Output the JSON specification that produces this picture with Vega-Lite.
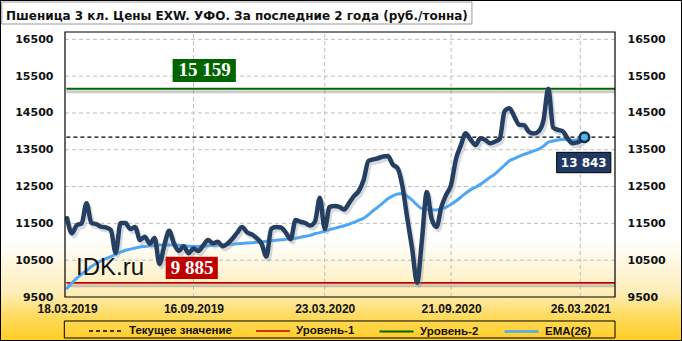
{
  "$schema": "https://vega.github.io/schema/vega-lite/v6.json",
  "width": 682,
  "height": 341,
  "autosize": {"type": "none"},
  "padding": 0,
  "background": "white",
  "title": {
    "text": "Пшеница 3 кл. Цены EXW. УФО. За последние 2 года (руб./тонна)",
    "anchor": "start", "frame": "group", "orient": "top", "offset": -32, "dx": 6,
    "baseline": "alphabetic", "font": "DejaVu Sans", "fontSize": 12, "fontWeight": "bold", "color": "#111111"
  },
  "config": {
    "view": {
      "fill": {"gradient": "linear", "x1": 0, "y1": 0, "x2": 0, "y2": 1,
        "stops": [
          {"offset": 0, "color": "#ffffff"},
          {"offset": 0.70, "color": "#ffffff"},
          {"offset": 0.86, "color": "#FDEDB8"},
          {"offset": 0.92, "color": "#FFDD66"},
          {"offset": 1, "color": "#FFCC22"}
        ]},
      "stroke": "#000000", "strokeWidth": 2
    },
    "axis": {"grid": false, "ticks": false, "domain": false, "title": null, "labelFlush": false, "labelBound": false,
      "labelFont": "DejaVu Sans", "labelFontSize": 11, "labelFontWeight": "bold", "labelColor": "#111111"}
  },
  "datasets": {
    "series": [
      {"date": "2019-03-18", "price": 11640, "ema": 9740},
      {"date": "2019-03-25", "price": 11230, "ema": 9880},
      {"date": "2019-04-01", "price": 11456, "ema": 10010},
      {"date": "2019-04-08", "price": 11500, "ema": 10120},
      {"date": "2019-04-15", "price": 12050, "ema": 10220},
      {"date": "2019-04-22", "price": 11510, "ema": 10330},
      {"date": "2019-04-29", "price": 11480, "ema": 10410},
      {"date": "2019-05-06", "price": 11410, "ema": 10480},
      {"date": "2019-05-13", "price": 11390, "ema": 10540},
      {"date": "2019-05-20", "price": 11320, "ema": 10600},
      {"date": "2019-05-27", "price": 10700, "ema": 10660},
      {"date": "2019-06-03", "price": 11510, "ema": 10720},
      {"date": "2019-06-10", "price": 11510, "ema": 10770},
      {"date": "2019-06-17", "price": 11350, "ema": 10800},
      {"date": "2019-06-24", "price": 11400, "ema": 10830},
      {"date": "2019-07-01", "price": 11050, "ema": 10860},
      {"date": "2019-07-08", "price": 11140, "ema": 10875},
      {"date": "2019-07-15", "price": 10950, "ema": 10890},
      {"date": "2019-07-22", "price": 11100, "ema": 10900},
      {"date": "2019-07-29", "price": 10400, "ema": 10910},
      {"date": "2019-08-05", "price": 10900, "ema": 10910},
      {"date": "2019-08-12", "price": 11300, "ema": 10910},
      {"date": "2019-08-19", "price": 10950, "ema": 10910},
      {"date": "2019-08-26", "price": 10750, "ema": 10905},
      {"date": "2019-09-02", "price": 10880, "ema": 10890},
      {"date": "2019-09-09", "price": 10690, "ema": 10880},
      {"date": "2019-09-16", "price": 10820, "ema": 10870},
      {"date": "2019-09-23", "price": 10750, "ema": 10875},
      {"date": "2019-09-30", "price": 10900, "ema": 10880},
      {"date": "2019-10-07", "price": 11050, "ema": 10890},
      {"date": "2019-10-14", "price": 10960, "ema": 10905},
      {"date": "2019-10-21", "price": 11000, "ema": 10910},
      {"date": "2019-10-28", "price": 10880, "ema": 10920},
      {"date": "2019-11-04", "price": 10950, "ema": 10925},
      {"date": "2019-11-11", "price": 11080, "ema": 10935},
      {"date": "2019-11-18", "price": 11250, "ema": 10945},
      {"date": "2019-11-25", "price": 11400, "ema": 10955},
      {"date": "2019-12-02", "price": 11260, "ema": 10965},
      {"date": "2019-12-09", "price": 11200, "ema": 10975},
      {"date": "2019-12-16", "price": 11100, "ema": 10990},
      {"date": "2019-12-23", "price": 10950, "ema": 11000},
      {"date": "2019-12-30", "price": 10600, "ema": 11015},
      {"date": "2020-01-06", "price": 11350, "ema": 11030},
      {"date": "2020-01-13", "price": 11400, "ema": 11045},
      {"date": "2020-01-20", "price": 11390, "ema": 11055},
      {"date": "2020-01-27", "price": 11250, "ema": 11070},
      {"date": "2020-02-03", "price": 11070, "ema": 11085},
      {"date": "2020-02-10", "price": 11590, "ema": 11095},
      {"date": "2020-02-17", "price": 11545, "ema": 11120},
      {"date": "2020-02-24", "price": 11510, "ema": 11150},
      {"date": "2020-03-02", "price": 11440, "ema": 11175},
      {"date": "2020-03-09", "price": 11550, "ema": 11220},
      {"date": "2020-03-16", "price": 12200, "ema": 11250},
      {"date": "2020-03-23", "price": 11350, "ema": 11290},
      {"date": "2020-03-30", "price": 11950, "ema": 11330},
      {"date": "2020-04-06", "price": 11970, "ema": 11365},
      {"date": "2020-04-13", "price": 11950, "ema": 11400},
      {"date": "2020-04-20", "price": 11880, "ema": 11435},
      {"date": "2020-04-27", "price": 12050, "ema": 11475},
      {"date": "2020-05-04", "price": 12240, "ema": 11530},
      {"date": "2020-05-11", "price": 12380, "ema": 11585},
      {"date": "2020-05-18", "price": 12680, "ema": 11640},
      {"date": "2020-05-25", "price": 13200, "ema": 11740},
      {"date": "2020-06-01", "price": 13240, "ema": 11850},
      {"date": "2020-06-08", "price": 13270, "ema": 11950},
      {"date": "2020-06-15", "price": 13320, "ema": 12060},
      {"date": "2020-06-22", "price": 13330, "ema": 12170},
      {"date": "2020-06-29", "price": 13100, "ema": 12250},
      {"date": "2020-07-06", "price": 13000, "ema": 12300},
      {"date": "2020-07-13", "price": 12500, "ema": 12310},
      {"date": "2020-07-20", "price": 11620, "ema": 12240},
      {"date": "2020-07-27", "price": 10800, "ema": 12130},
      {"date": "2020-08-03", "price": 9885, "ema": 12000},
      {"date": "2020-08-10", "price": 11050, "ema": 11900},
      {"date": "2020-08-17", "price": 12350, "ema": 11880},
      {"date": "2020-08-24", "price": 11620, "ema": 11870},
      {"date": "2020-08-31", "price": 11400, "ema": 11865},
      {"date": "2020-09-07", "price": 11950, "ema": 11900},
      {"date": "2020-09-14", "price": 12280, "ema": 11945},
      {"date": "2020-09-21", "price": 12550, "ema": 12020},
      {"date": "2020-09-28", "price": 13250, "ema": 12110},
      {"date": "2020-10-05", "price": 13620, "ema": 12210},
      {"date": "2020-10-12", "price": 13950, "ema": 12320},
      {"date": "2020-10-19", "price": 13780, "ema": 12410},
      {"date": "2020-10-26", "price": 13630, "ema": 12480},
      {"date": "2020-11-02", "price": 13810, "ema": 12560},
      {"date": "2020-11-09", "price": 13770, "ema": 12650},
      {"date": "2020-11-16", "price": 13680, "ema": 12750},
      {"date": "2020-11-23", "price": 13720, "ema": 12840},
      {"date": "2020-11-30", "price": 13800, "ema": 12960},
      {"date": "2020-12-07", "price": 14550, "ema": 13080},
      {"date": "2020-12-14", "price": 14630, "ema": 13200},
      {"date": "2020-12-21", "price": 14400, "ema": 13260},
      {"date": "2020-12-28", "price": 14180, "ema": 13320},
      {"date": "2021-01-04", "price": 14170, "ema": 13375},
      {"date": "2021-01-11", "price": 13990, "ema": 13420},
      {"date": "2021-01-18", "price": 13940, "ema": 13470},
      {"date": "2021-01-25", "price": 14000, "ema": 13520},
      {"date": "2021-02-01", "price": 14300, "ema": 13600},
      {"date": "2021-02-08", "price": 15159, "ema": 13710},
      {"date": "2021-02-15", "price": 14100, "ema": 13740},
      {"date": "2021-02-22", "price": 14040, "ema": 13765},
      {"date": "2021-03-01", "price": 14000, "ema": 13785},
      {"date": "2021-03-08", "price": 13800, "ema": 13770},
      {"date": "2021-03-15", "price": 13680, "ema": 13755},
      {"date": "2021-03-22", "price": 13700, "ema": 13780},
      {"date": "2021-04-01", "price": 13843, "ema": 13843}
    ],
    "last": [{"date": "2021-04-01", "price": 13843}],
    "levels": [
      {"series": "Текущее значение", "v": 13843},
      {"series": "Уровень-1", "v": 9885},
      {"series": "Уровень-2", "v": 15159}
    ],
    "gy": [{"v": 10500}, {"v": 11500}, {"v": 12500}, {"v": 13500}, {"v": 14500}, {"v": 15500}, {"v": 16500}],
    "gx": [{"d": "2019-09-16"}, {"d": "2020-03-23"}, {"d": "2020-09-21"}, {"d": "2021-03-26"}],
    "one": [{}]
  },
  "resolve": {"axis": {"x": "independent", "y": "independent"}},
  "layer": [
    {
      "data": {"name": "gy"},
      "mark": {"type": "rule", "stroke": "#BEBEBE", "strokeDash": [4, 3], "strokeWidth": 1},
      "encoding": {
        "y": {"field": "v", "type": "quantitative", "axis": null, "scale": {"domain": [9500, 16700], "range": [297, 32], "nice": false, "zero": false}},
        "x": {"datum": {"year": 2019, "month": 3, "date": 15}, "type": "temporal", "axis": null, "scale": {"domain": [{"year": 2019, "month": 3, "date": 15}, {"year": 2021, "month": 5, "date": 15}], "range": [65, 615], "nice": false}},
        "x2": {"datum": {"year": 2021, "month": 5, "date": 15}}
      }
    },
    {
      "data": {"name": "gx"},
      "mark": {"type": "rule", "stroke": "#BEBEBE", "strokeDash": [4, 3], "strokeWidth": 1},
      "encoding": {
        "x": {"field": "d", "type": "temporal", "axis": null, "scale": {"domain": [{"year": 2019, "month": 3, "date": 15}, {"year": 2021, "month": 5, "date": 15}], "range": [65, 615], "nice": false}},
        "y": {"datum": 9500, "type": "quantitative", "axis": null, "scale": {"domain": [9500, 16700], "range": [297, 32], "nice": false, "zero": false}},
        "y2": {"datum": 16700}
      }
    },
    {
      "data": {"name": "levels"},
      "transform": [{"filter": "datum.series !== 'Текущее значение'"}],
      "mark": {"type": "rule", "stroke": "#8c8c8c", "strokeWidth": 3, "opacity": 0.45, "yOffset": 3},
      "encoding": {
        "y": {"field": "v", "type": "quantitative", "axis": null, "scale": {"domain": [9500, 16700], "range": [297, 32], "nice": false, "zero": false}},
        "x": {"datum": {"year": 2019, "month": 3, "date": 17}, "type": "temporal", "axis": null, "scale": {"domain": [{"year": 2019, "month": 3, "date": 15}, {"year": 2021, "month": 5, "date": 15}], "range": [65, 615], "nice": false}},
        "x2": {"datum": {"year": 2021, "month": 5, "date": 15}}
      }
    },
    {
      "data": {"name": "levels"},
      "mark": {"type": "rule"},
      "encoding": {
        "y": {"field": "v", "type": "quantitative", "axis": null, "scale": {"domain": [9500, 16700], "range": [297, 32], "nice": false, "zero": false}},
        "x": {"datum": {"year": 2019, "month": 3, "date": 17}, "type": "temporal", "axis": null, "scale": {"domain": [{"year": 2019, "month": 3, "date": 15}, {"year": 2021, "month": 5, "date": 15}], "range": [65, 615], "nice": false}},
        "x2": {"datum": {"year": 2021, "month": 5, "date": 15}},
        "color": {"field": "series", "type": "nominal",
          "scale": {"domain": ["Текущее значение", "Уровень-1", "Уровень-2", "EMA(26)"], "range": ["#000000", "#C00000", "#006400", "#4FA6F2"]},
          "legend": {"orient": "none", "legendX": 88, "legendY": 313, "offset": 0, "direction": "horizontal", "gridAlign": "none", "title": null, "symbolType": "stroke", "symbolSize": 1156, "labelFont": "Liberation Sans", "labelFontSize": 11.5, "labelFontWeight": "bold", "labelColor": "#111111", "labelOffset": 5, "columnPadding": 20, "padding": 0}},
        "strokeDash": {"field": "series", "type": "nominal",
          "scale": {"domain": ["Текущее значение", "Уровень-1", "Уровень-2", "EMA(26)"], "range": [[4, 3], [1, 0], [1, 0], [1, 0]]},
          "legend": {"orient": "none", "legendX": 88, "legendY": 313, "offset": 0, "direction": "horizontal", "gridAlign": "none", "title": null, "symbolType": "stroke", "symbolSize": 1156, "labelFont": "Liberation Sans", "labelFontSize": 11.5, "labelFontWeight": "bold", "labelColor": "#111111", "labelOffset": 5, "columnPadding": 20, "padding": 0}},
        "strokeWidth": {"field": "series", "type": "ordinal",
          "scale": {"domain": ["Текущее значение", "Уровень-1", "Уровень-2", "EMA(26)"], "range": [1.3, 2.6, 2.6, 3.5]},
          "legend": {"orient": "none", "legendX": 88, "legendY": 313, "offset": 0, "direction": "horizontal", "gridAlign": "none", "title": null, "symbolType": "stroke", "symbolSize": 1156, "labelFont": "Liberation Sans", "labelFontSize": 11.5, "labelFontWeight": "bold", "labelColor": "#111111", "labelOffset": 5, "columnPadding": 20, "padding": 0}}
      }
    },
    {
      "data": {"name": "series"},
      "mark": {"type": "line", "interpolate": "monotone", "color": "#4FA6F2", "strokeWidth": 3, "strokeCap": "round"},
      "encoding": {
        "x": {"field": "date", "type": "temporal", "axis": null, "scale": {"domain": [{"year": 2019, "month": 3, "date": 15}, {"year": 2021, "month": 5, "date": 15}], "range": [65, 615], "nice": false}},
        "y": {"field": "ema", "type": "quantitative", "scale": {"domain": [9500, 16700], "range": [297, 32], "nice": false, "zero": false},
          "axis": {"orient": "right", "offset": -67, "values": [9500, 10500, 11500, 12500, 13500, 14500, 15500, 16500], "labelPadding": 12, "format": "d"}}
      }
    },
    {
      "data": {"name": "series"},
      "mark": {"type": "line", "interpolate": "monotone", "color": "#8a939e", "opacity": 0.35, "strokeWidth": 4.5, "xOffset": 2, "yOffset": 3},
      "encoding": {
        "x": {"field": "date", "type": "temporal", "axis": null, "scale": {"domain": [{"year": 2019, "month": 3, "date": 15}, {"year": 2021, "month": 5, "date": 15}], "range": [65, 615], "nice": false}},
        "y": {"field": "price", "type": "quantitative", "axis": null, "scale": {"domain": [9500, 16700], "range": [297, 32], "nice": false, "zero": false}}
      }
    },
    {
      "data": {"name": "series"},
      "mark": {"type": "line", "interpolate": "monotone", "color": "#243F62", "strokeWidth": 4.5, "strokeJoin": "round", "strokeCap": "round"},
      "encoding": {
        "x": {"field": "date", "type": "temporal", "scale": {"domain": [{"year": 2019, "month": 3, "date": 15}, {"year": 2021, "month": 5, "date": 15}], "range": [65, 615], "nice": false},
          "axis": {"orient": "bottom", "offset": -44, "format": "%d.%m.%Y", "labelPadding": 6, "labelFont": "Liberation Sans", "labelFontSize": 12,
            "values": [{"year": 2019, "month": 3, "date": 18}, {"year": 2019, "month": 9, "date": 16}, {"year": 2020, "month": 3, "date": 23}, {"year": 2020, "month": 9, "date": 21}, {"year": 2021, "month": 3, "date": 26}]}},
        "y": {"field": "price", "type": "quantitative", "scale": {"domain": [9500, 16700], "range": [297, 32], "nice": false, "zero": false},
          "axis": {"orient": "left", "offset": -65, "values": [9500, 10500, 11500, 12500, 13500, 14500, 15500, 16500], "labelPadding": 12, "format": "d"}}
      }
    },
    {
      "data": {"name": "last"},
      "mark": {"type": "point", "filled": false, "size": 90, "fill": "#5BB0E0", "fillOpacity": 1, "stroke": "#0F2C52", "strokeWidth": 2.5, "opacity": 1},
      "encoding": {
        "x": {"field": "date", "type": "temporal", "axis": null, "scale": {"domain": [{"year": 2019, "month": 3, "date": 15}, {"year": 2021, "month": 5, "date": 15}], "range": [65, 615], "nice": false}},
        "y": {"field": "price", "type": "quantitative", "axis": null, "scale": {"domain": [9500, 16700], "range": [297, 32], "nice": false, "zero": false}}
      }
    },
    {
      "data": {"name": "one"},
      "mark": {"type": "rect", "fill": "#7f7f7f", "opacity": 0.5, "xOffset": 3, "yOffset": 3},
      "encoding": {
        "x": {"datum": {"year": 2019, "month": 8, "date": 17}, "type": "temporal", "axis": null, "scale": {"domain": [{"year": 2019, "month": 3, "date": 15}, {"year": 2021, "month": 5, "date": 15}], "range": [65, 615], "nice": false}},
        "x2": {"datum": {"year": 2019, "month": 11, "date": 16}},
        "y": {"datum": 15967, "type": "quantitative", "axis": null, "scale": {"domain": [9500, 16700], "range": [297, 32], "nice": false, "zero": false}},
        "y2": {"datum": 15342}
      }
    },
    {
      "data": {"name": "one"},
      "mark": {"type": "rect", "fill": "#006400"},
      "encoding": {
        "x": {"datum": {"year": 2019, "month": 8, "date": 17}, "type": "temporal", "axis": null, "scale": {"domain": [{"year": 2019, "month": 3, "date": 15}, {"year": 2021, "month": 5, "date": 15}], "range": [65, 615], "nice": false}},
        "x2": {"datum": {"year": 2019, "month": 11, "date": 16}},
        "y": {"datum": 15967, "type": "quantitative", "axis": null, "scale": {"domain": [9500, 16700], "range": [297, 32], "nice": false, "zero": false}},
        "y2": {"datum": 15342}
      }
    },
    {
      "data": {"name": "one"},
      "mark": {"type": "text", "text": "15 159", "font": "Liberation Serif", "fontSize": 19, "fontWeight": "bold", "color": "#ffffff", "align": "center", "baseline": "middle"},
      "encoding": {
        "x": {"datum": {"year": 2019, "month": 10, "date": 2}, "type": "temporal", "axis": null, "scale": {"domain": [{"year": 2019, "month": 3, "date": 15}, {"year": 2021, "month": 5, "date": 15}], "range": [65, 615], "nice": false}},
        "y": {"datum": 15654, "type": "quantitative", "axis": null, "scale": {"domain": [9500, 16700], "range": [297, 32], "nice": false, "zero": false}}
      }
    },
    {
      "data": {"name": "one"},
      "mark": {"type": "rect", "fill": "#7f7f7f", "opacity": 0.5, "xOffset": 3, "yOffset": 3},
      "encoding": {
        "x": {"datum": {"year": 2019, "month": 8, "date": 7}, "type": "temporal", "axis": null, "scale": {"domain": [{"year": 2019, "month": 3, "date": 15}, {"year": 2021, "month": 5, "date": 15}], "range": [65, 615], "nice": false}},
        "x2": {"datum": {"year": 2019, "month": 10, "date": 21}},
        "y": {"datum": 10595, "type": "quantitative", "axis": null, "scale": {"domain": [9500, 16700], "range": [297, 32], "nice": false, "zero": false}},
        "y2": {"datum": 9989}
      }
    },
    {
      "data": {"name": "one"},
      "mark": {"type": "rect", "fill": "#C00000"},
      "encoding": {
        "x": {"datum": {"year": 2019, "month": 8, "date": 7}, "type": "temporal", "axis": null, "scale": {"domain": [{"year": 2019, "month": 3, "date": 15}, {"year": 2021, "month": 5, "date": 15}], "range": [65, 615], "nice": false}},
        "x2": {"datum": {"year": 2019, "month": 10, "date": 21}},
        "y": {"datum": 10595, "type": "quantitative", "axis": null, "scale": {"domain": [9500, 16700], "range": [297, 32], "nice": false, "zero": false}},
        "y2": {"datum": 9989}
      }
    },
    {
      "data": {"name": "one"},
      "mark": {"type": "text", "text": "9 885", "font": "Liberation Serif", "fontSize": 19, "fontWeight": "bold", "color": "#ffffff", "align": "center", "baseline": "middle"},
      "encoding": {
        "x": {"datum": {"year": 2019, "month": 9, "date": 14}, "type": "temporal", "axis": null, "scale": {"domain": [{"year": 2019, "month": 3, "date": 15}, {"year": 2021, "month": 5, "date": 15}], "range": [65, 615], "nice": false}},
        "y": {"datum": 10291, "type": "quantitative", "axis": null, "scale": {"domain": [9500, 16700], "range": [297, 32], "nice": false, "zero": false}}
      }
    },
    {
      "data": {"name": "one"},
      "mark": {"type": "rect", "fill": "#1F3864", "stroke": "#000000", "strokeWidth": 1},
      "encoding": {
        "x": {"datum": {"year": 2021, "month": 2, "date": 20}, "type": "temporal", "axis": null, "scale": {"domain": [{"year": 2019, "month": 3, "date": 15}, {"year": 2021, "month": 5, "date": 15}], "range": [65, 615], "nice": false}},
        "x2": {"datum": {"year": 2021, "month": 5, "date": 9}},
        "y": {"datum": 13431, "type": "quantitative", "axis": null, "scale": {"domain": [9500, 16700], "range": [297, 32], "nice": false, "zero": false}},
        "y2": {"datum": 12877}
      }
    },
    {
      "data": {"name": "one"},
      "mark": {"type": "text", "text": "13 843", "font": "DejaVu Sans", "fontSize": 12, "fontWeight": "bold", "color": "#ffffff", "align": "center", "baseline": "middle"},
      "encoding": {
        "x": {"datum": {"year": 2021, "month": 3, "date": 31}, "type": "temporal", "axis": null, "scale": {"domain": [{"year": 2019, "month": 3, "date": 15}, {"year": 2021, "month": 5, "date": 15}], "range": [65, 615], "nice": false}},
        "y": {"datum": 13154, "type": "quantitative", "axis": null, "scale": {"domain": [9500, 16700], "range": [297, 32], "nice": false, "zero": false}}
      }
    },
    {
      "data": {"name": "one"},
      "mark": {"type": "text", "text": "IDK.ru", "font": "Liberation Sans", "fontSize": 24, "color": "#111111", "align": "left", "baseline": "alphabetic"},
      "encoding": {
        "x": {"datum": {"year": 2019, "month": 3, "date": 31}, "type": "temporal", "axis": null, "scale": {"domain": [{"year": 2019, "month": 3, "date": 15}, {"year": 2021, "month": 5, "date": 15}], "range": [65, 615], "nice": false}},
        "y": {"datum": 10098, "type": "quantitative", "axis": null, "scale": {"domain": [9500, 16700], "range": [297, 32], "nice": false, "zero": false}}
      }
    },
    {
      "data": {"name": "one"},
      "mark": {"type": "rect", "fill": "#8c8c8c", "opacity": 0.5, "xOffset": 2, "yOffset": 2},
      "encoding": {
        "x": {"datum": {"year": 2018, "month": 12, "date": 14}, "type": "temporal", "axis": null, "scale": {"domain": [{"year": 2019, "month": 3, "date": 15}, {"year": 2021, "month": 5, "date": 15}], "range": [65, 615], "nice": false}},
        "x2": {"datum": {"year": 2020, "month": 10, "date": 21}},
        "y": {"datum": 17515, "type": "quantitative", "axis": null, "scale": {"domain": [9500, 16700], "range": [297, 32], "nice": false, "zero": false}},
        "y2": {"datum": 16917}
      }
    },
    {
      "data": {"name": "one"},
      "mark": {"type": "rect", "fill": "#ffffff", "stroke": "#9a9a9a", "strokeWidth": 1},
      "encoding": {
        "x": {"datum": {"year": 2018, "month": 12, "date": 14}, "type": "temporal", "axis": null, "scale": {"domain": [{"year": 2019, "month": 3, "date": 15}, {"year": 2021, "month": 5, "date": 15}], "range": [65, 615], "nice": false}},
        "x2": {"datum": {"year": 2020, "month": 10, "date": 21}},
        "y": {"datum": 17515, "type": "quantitative", "axis": null, "scale": {"domain": [9500, 16700], "range": [297, 32], "nice": false, "zero": false}},
        "y2": {"datum": 16917}
      }
    },
    {
      "data": {"name": "one"},
      "mark": {"type": "rect", "fill": null, "fillOpacity": 0, "stroke": "#000000", "strokeWidth": 1},
      "encoding": {
        "x": {"datum": {"year": 2019, "month": 3, "date": 14}, "type": "temporal", "axis": null, "scale": {"domain": [{"year": 2019, "month": 3, "date": 15}, {"year": 2021, "month": 5, "date": 15}], "range": [65, 615], "nice": false}},
        "x2": {"datum": {"year": 2021, "month": 5, "date": 15}},
        "y": {"datum": 8848, "type": "quantitative", "axis": null, "scale": {"domain": [9500, 16700], "range": [297, 32], "nice": false, "zero": false}},
        "y2": {"datum": 8386}
      }
    },
    {
      "data": {"name": "one"},
      "mark": {"type": "rect", "fill": null, "fillOpacity": 0, "stroke": "#000000", "strokeWidth": 1.2},
      "encoding": {
        "x": {"datum": {"year": 2019, "month": 3, "date": 15}, "type": "temporal", "axis": null, "scale": {"domain": [{"year": 2019, "month": 3, "date": 15}, {"year": 2021, "month": 5, "date": 15}], "range": [65, 615], "nice": false}},
        "x2": {"datum": {"year": 2021, "month": 5, "date": 15}},
        "y": {"datum": 9500, "type": "quantitative", "axis": null, "scale": {"domain": [9500, 16700], "range": [297, 32], "nice": false, "zero": false}},
        "y2": {"datum": 16700}
      }
    }
  ]
}
